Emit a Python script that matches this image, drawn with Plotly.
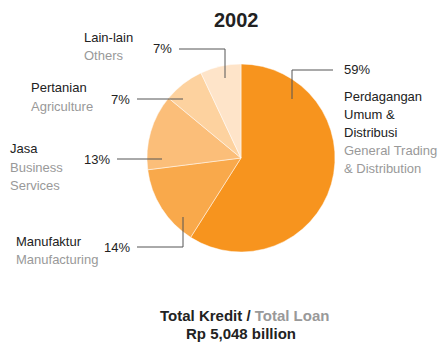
import plotly.graph_objects as go

# Loan portfolio by sector, 2002
sectors_id = ["Perdagangan Umum & Distribusi", "Manufaktur", "Jasa", "Pertanian", "Lain-lain"]
sectors_en = ["General Trading & Distribution", "Manufacturing", "Business Services", "Agriculture", "Others"]
shares = [59, 14, 13, 7, 7]
slice_colors = ["#F7941E", "#F9A94B", "#FBBE79", "#FDD29F", "#FEE4C9"]

year = "2002"
total_label_id = "Total Kredit"
total_label_en = "Total Loan"
total_value = "Rp 5,048 billion"

W, H = 439, 345
FONT = "Liberation Sans"
DARK = "#222222"
GRAY = "#999999"
LINE = "#555555"
PAD = 2  # annotation box inset


def px(x):
    return x / W


def py(y):
    return 1 - y / H


# pie geometry (pixels)
cx, cy, r = 241, 158, 94

fig = go.Figure()
fig.add_trace(go.Pie(
    labels=sectors_en,
    values=shares,
    sort=False,
    direction="clockwise",
    rotation=0,
    marker=dict(colors=slice_colors, line=dict(color="rgba(255,255,255,0.6)", width=0.8)),
    textinfo="none",
    hoverinfo="label+percent",
    showlegend=False,
    domain=dict(x=[px(cx - r), px(cx + r)], y=[py(cy + r), py(cy - r)]),
))

annotations = []


def add_text(text, x, y, anchor="left", color=DARK, size=13, bold=False):
    if bold:
        text = f"<b>{text}</b>"
    if anchor == "left":
        x -= PAD
    elif anchor == "right":
        x += PAD
    annotations.append(dict(
        text=text, x=px(x), y=py(y), xref="paper", yref="paper",
        xanchor=anchor, yanchor="middle", showarrow=False,
        font=dict(family=FONT, size=size, color=color),
    ))


# label layout per slice: (percent x, percent y, anchor), leader path, name lines
label_layout = [
    dict(pct=(344, 69.5, "left"), path=[(333, 70), (292, 70), (292, 99)],
         lines_id=[("Perdagangan", 344, 96.5), ("Umum &", 344, 114.5), ("Distribusi", 344, 132.5)],
         lines_en=[("General Trading", 344, 150.5), ("& Distribution", 344, 168.5)]),
    dict(pct=(130, 247, "right"), path=[(137, 247), (183, 247), (183, 217)],
         lines_id=[("Manufaktur", 16, 241.3)],
         lines_en=[("Manufacturing", 16, 259.3)]),
    dict(pct=(110, 159, "right"), path=[(117, 159), (162, 159)],
         lines_id=[("Jasa", 10, 148)],
         lines_en=[("Business", 10, 167), ("Services", 10, 185)]),
    dict(pct=(130, 99, "right"), path=[(137, 99), (183, 99)],
         lines_id=[("Pertanian", 31, 88)],
         lines_en=[("Agriculture", 31, 106)]),
    dict(pct=(172, 48.5, "right"), path=[(179, 49), (225, 49), (225, 78)],
         lines_id=[("Lain-lain", 84, 37)],
         lines_en=[("Others", 84, 56)]),
]

shapes = []
for share, lay in zip(shares, label_layout):
    x, y, anc = lay["pct"]
    add_text(f"{share}%", x, y, anchor=anc)
    pts = lay["path"]
    path = "M " + " L ".join(f"{px(a)},{py(b)}" for a, b in pts)
    shapes.append(dict(type="path", path=path, xref="paper", yref="paper",
                       line=dict(color=LINE, width=1)))
    for t, lx, ly in lay["lines_id"]:
        add_text(t, lx, ly, color=DARK)
    for t, lx, ly in lay["lines_en"]:
        add_text(t, lx, ly, color=GRAY)

# title and total
add_text(year, 236.5, 20, anchor="center", size=20, bold=True)
annotations.append(dict(
    text=f"<b>{total_label_id} / </b><b><span style='color:{GRAY}'>{total_label_en}</span></b>",
    x=px(244), y=py(315.5), xref="paper", yref="paper", xanchor="center", yanchor="middle",
    showarrow=False, font=dict(family=FONT, size=15, color=DARK),
))
add_text(total_value, 241, 333.5, anchor="center", size=15, bold=True)

fig.update_layout(
    width=W, height=H,
    margin=dict(l=0, r=0, t=0, b=0),
    paper_bgcolor="white", plot_bgcolor="white",
    annotations=annotations, shapes=shapes,
    font=dict(family=FONT),
)

fig.write_html("out.html")
